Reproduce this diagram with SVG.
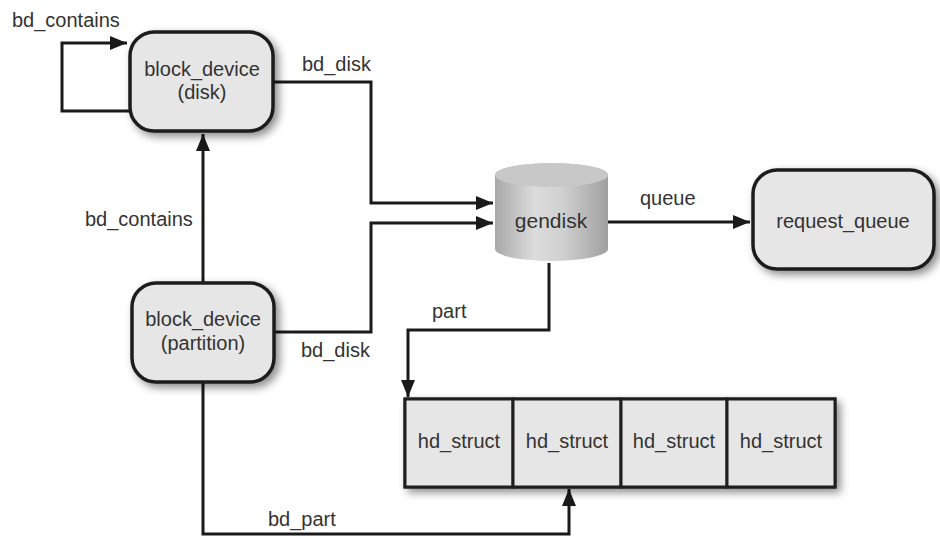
<svg xmlns="http://www.w3.org/2000/svg" width="940" height="539" viewBox="0 0 940 539">
<style>
text{font-family:"Liberation Sans",Arial,sans-serif;font-size:20px;fill:#333}
.c{text-anchor:middle}
.box{fill:#e6e6e6;stroke:#1e1e1e;stroke-width:3.5}
.cell{fill:#e6e6e6;stroke:#1e1e1e;stroke-width:3}
.ln{fill:none;stroke:#1a1a1a;stroke-width:3}
</style>
<defs>
<marker id="ah" viewBox="0 0 17 14" refX="17" refY="7" markerWidth="17" markerHeight="14" markerUnits="userSpaceOnUse" orient="auto">
<path d="M0,0 L17,7 L0,14 z" fill="#1a1a1a"/>
</marker>
<filter id="sh" x="-20%" y="-20%" width="150%" height="150%">
<feDropShadow dx="4" dy="4" stdDeviation="4" flood-color="#000" flood-opacity="0.45"/>
</filter>
<linearGradient id="cyl" x1="0" y1="0" x2="1" y2="0">
<stop offset="0" stop-color="#a8a8a8"/>
<stop offset="0.35" stop-color="#dcdcdc"/>
<stop offset="0.6" stop-color="#d0d0d0"/>
<stop offset="1" stop-color="#a0a0a0"/>
</linearGradient>
</defs>
<g id="connectors">
<path class="ln" d="M130,111 H62 V43 H127" marker-end="url(#ah)"/>
<path class="ln" d="M203,283 V134" marker-end="url(#ah)"/>
<path class="ln" d="M274,82 H371 V203 H493" marker-end="url(#ah)"/>
<path class="ln" d="M275,332 H371 V223 H493" marker-end="url(#ah)"/>
<path class="ln" d="M608,222 H750" marker-end="url(#ah)"/>
<path class="ln" d="M549,263 V330 H408 V397" marker-end="url(#ah)"/>
<path class="ln" d="M203,383 V534 H569 V489" marker-end="url(#ah)"/>
</g>
<g id="n_disk">
<rect class="box" x="130" y="32" width="143" height="99" rx="24" filter="url(#sh)"/>
<text class="c" x="202" y="76">block_device</text>
<text class="c" x="202" y="99">(disk)</text>
</g>
<g id="n_part">
<rect class="box" x="132" y="283" width="142" height="99" rx="24" filter="url(#sh)"/>
<text class="c" x="203" y="326">block_device</text>
<text class="c" x="203" y="350">(partition)</text>
</g>
<g id="n_gendisk">
<path d="M495,175 A56.5,12 0 0 1 608,175 V249 A56.5,12 0 0 1 495,249 Z" fill="url(#cyl)"/>
<ellipse cx="551.5" cy="175" rx="56.5" ry="12" fill="#c8c8c8"/>
<text class="c" x="551" y="228" style="font-size:21px">gendisk</text>
</g>
<g id="n_rq">
<rect class="box" x="753" y="170" width="181" height="99" rx="24" filter="url(#sh)"/>
<text class="c" x="843" y="228">request_queue</text>
</g>
<g id="n_hd">
<rect class="cell" x="405" y="399" width="430" height="88" filter="url(#sh)"/>
<rect class="cell" x="405" y="399" width="108" height="88"/>
<rect class="cell" x="513" y="399" width="108" height="88"/>
<rect class="cell" x="621" y="399" width="106" height="88"/>
<rect class="cell" x="727" y="399" width="108" height="88"/>
<text class="c" x="459" y="448">hd_struct</text>
<text class="c" x="567" y="448">hd_struct</text>
<text class="c" x="674" y="448">hd_struct</text>
<text class="c" x="781" y="448">hd_struct</text>
</g>
<g id="labels">
<text x="12" y="27">bd_contains</text>
<text x="85" y="226">bd_contains</text>
<text x="302" y="71">bd_disk</text>
<text x="301" y="357">bd_disk</text>
<text x="640" y="205">queue</text>
<text x="432" y="318">part</text>
<text x="268" y="526">bd_part</text>
</g>
</svg>
